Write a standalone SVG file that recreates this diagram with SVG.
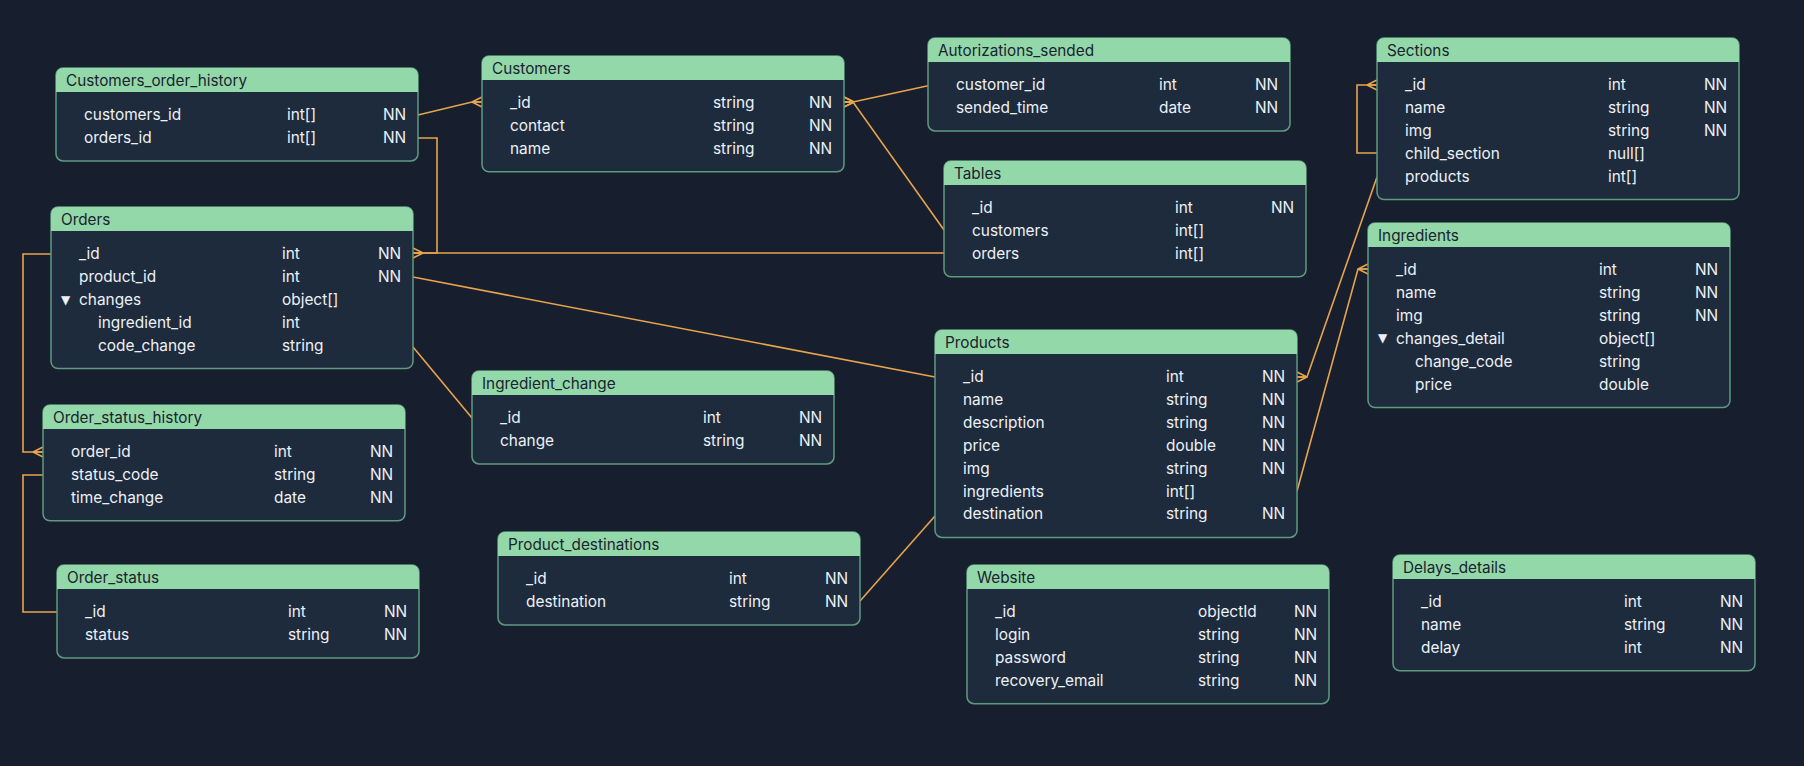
<svg xmlns="http://www.w3.org/2000/svg" width="1804" height="766" viewBox="0 0 1804 766">
<defs>
<style>
.bg{fill:#171f2e}
.body{fill:#1e2b3d;stroke:#5f9a7f;stroke-width:1.5}
.hdr{fill:#93d8a8}
.title{font-family:Inter,"Liberation Sans",sans-serif;font-size:15.3px;fill:#1a2331}
.t{font-family:Inter,"Liberation Sans",sans-serif;font-size:15.4px;fill:#edf1f6}
.tri{font-family:"DejaVu Sans",sans-serif;font-size:12px;fill:#edf1f6}
.c{fill:none;stroke:#e8a44c;stroke-width:1.6}
</style>
<marker id="crow" markerUnits="userSpaceOnUse" viewBox="-11 -7 12 14" refX="0" refY="0" markerWidth="12" markerHeight="14" orient="auto" overflow="visible">
<path d="M-10,0 L0,-5 M-10,0 L0,0 M-10,0 L0,5" fill="none" stroke="#e8a44c" stroke-width="1.6"/>
</marker>
<path id="h" d="M0,24 V7 A7,7 0 0 1 7,0 H355 A7,7 0 0 1 362,7 V24 Z"/>
</defs>
<rect class="bg" x="0" y="0" width="1804" height="766"/>

<g id="connectors">
<path class="c" d="M418,115 L472,102 L482,102" marker-end="url(#crow)"/>
<path class="c" d="M418,138 H437 V253 H413" marker-end="url(#crow)"/>
<path class="c" d="M944,253 H413"/>
<path class="c" d="M928,85.7 L853,102 L844,102" marker-end="url(#crow)"/>
<path class="c" d="M944,230 L853,102 L844,102" marker-end="url(#crow)"/>
<path class="c" d="M413,277 L935,377"/>
<path class="c" d="M413,347 L472,418"/>
<path class="c" d="M860,601 L935,516"/>
<path class="c" d="M1377,177 L1307,377 L1297,377" marker-end="url(#crow)"/>
<path class="c" d="M1297,491 L1358,269 L1368,269" marker-end="url(#crow)"/>
<path class="c" d="M1377,153 H1357 V85 H1377" marker-end="url(#crow)"/>
<path class="c" d="M51,254 H23 V452 H43" marker-end="url(#crow)"/>
<path class="c" d="M43,475 H23 V612 H57"/>
</g>

<g id="Customers_order_history" transform="translate(56,68)">
<rect class="body" width="362" height="92.9" rx="7"/><use href="#h" class="hdr"/>
<text class="title" x="10" y="18">Customers_order_history</text>
<text class="t" x="28" y="52">customers_id</text><text class="t" x="231" y="52">int[]</text><text class="t" x="327" y="52">NN</text>
<text class="t" x="28" y="74.9">orders_id</text><text class="t" x="231" y="74.9">int[]</text><text class="t" x="327" y="74.9">NN</text>
</g>

<g id="Orders" transform="translate(51,207)">
<rect class="body" width="362" height="161.6" rx="7"/><use href="#h" class="hdr"/>
<text class="title" x="10" y="18">Orders</text>
<text class="t" x="28" y="52">_id</text><text class="t" x="231" y="52">int</text><text class="t" x="327" y="52">NN</text>
<text class="t" x="28" y="74.9">product_id</text><text class="t" x="231" y="74.9">int</text><text class="t" x="327" y="74.9">NN</text>
<text class="tri" x="10" y="96.5">▼</text><text class="t" x="28" y="97.8">changes</text><text class="t" x="231" y="97.8">object[]</text>
<text class="t" x="47" y="120.7">ingredient_id</text><text class="t" x="231" y="120.7">int</text>
<text class="t" x="47" y="143.6">code_change</text><text class="t" x="231" y="143.6">string</text>
</g>

<g id="Customers" transform="translate(482,56)">
<rect class="body" width="362" height="115.8" rx="7"/><use href="#h" class="hdr"/>
<text class="title" x="10" y="18">Customers</text>
<text class="t" x="28" y="52">_id</text><text class="t" x="231" y="52">string</text><text class="t" x="327" y="52">NN</text>
<text class="t" x="28" y="74.9">contact</text><text class="t" x="231" y="74.9">string</text><text class="t" x="327" y="74.9">NN</text>
<text class="t" x="28" y="97.8">name</text><text class="t" x="231" y="97.8">string</text><text class="t" x="327" y="97.8">NN</text>
</g>

<g id="Autorizations_sended" transform="translate(928,38)">
<rect class="body" width="362" height="92.9" rx="7"/><use href="#h" class="hdr"/>
<text class="title" x="10" y="18">Autorizations_sended</text>
<text class="t" x="28" y="52">customer_id</text><text class="t" x="231" y="52">int</text><text class="t" x="327" y="52">NN</text>
<text class="t" x="28" y="74.9">sended_time</text><text class="t" x="231" y="74.9">date</text><text class="t" x="327" y="74.9">NN</text>
</g>

<g id="Tables" transform="translate(944,161)">
<rect class="body" width="362" height="115.8" rx="7"/><use href="#h" class="hdr"/>
<text class="title" x="10" y="18">Tables</text>
<text class="t" x="28" y="52">_id</text><text class="t" x="231" y="52">int</text><text class="t" x="327" y="52">NN</text>
<text class="t" x="28" y="74.9">customers</text><text class="t" x="231" y="74.9">int[]</text>
<text class="t" x="28" y="97.8">orders</text><text class="t" x="231" y="97.8">int[]</text>
</g>

<g id="Sections" transform="translate(1377,38)">
<rect class="body" width="362" height="161.6" rx="7"/><use href="#h" class="hdr"/>
<text class="title" x="10" y="18">Sections</text>
<text class="t" x="28" y="52">_id</text><text class="t" x="231" y="52">int</text><text class="t" x="327" y="52">NN</text>
<text class="t" x="28" y="74.9">name</text><text class="t" x="231" y="74.9">string</text><text class="t" x="327" y="74.9">NN</text>
<text class="t" x="28" y="97.8">img</text><text class="t" x="231" y="97.8">string</text><text class="t" x="327" y="97.8">NN</text>
<text class="t" x="28" y="120.7">child_section</text><text class="t" x="231" y="120.7">null[]</text>
<text class="t" x="28" y="143.6">products</text><text class="t" x="231" y="143.6">int[]</text>
</g>

<g id="Ingredients" transform="translate(1368,223)">
<rect class="body" width="362" height="184.5" rx="7"/><use href="#h" class="hdr"/>
<text class="title" x="10" y="18">Ingredients</text>
<text class="t" x="28" y="52">_id</text><text class="t" x="231" y="52">int</text><text class="t" x="327" y="52">NN</text>
<text class="t" x="28" y="74.9">name</text><text class="t" x="231" y="74.9">string</text><text class="t" x="327" y="74.9">NN</text>
<text class="t" x="28" y="97.8">img</text><text class="t" x="231" y="97.8">string</text><text class="t" x="327" y="97.8">NN</text>
<text class="tri" x="10" y="119.4">▼</text><text class="t" x="28" y="120.7">changes_detail</text><text class="t" x="231" y="120.7">object[]</text>
<text class="t" x="47" y="143.6">change_code</text><text class="t" x="231" y="143.6">string</text>
<text class="t" x="47" y="166.5">price</text><text class="t" x="231" y="166.5">double</text>
</g>

<g id="Order_status_history" transform="translate(43,405)">
<rect class="body" width="362" height="115.8" rx="7"/><use href="#h" class="hdr"/>
<text class="title" x="10" y="18">Order_status_history</text>
<text class="t" x="28" y="52">order_id</text><text class="t" x="231" y="52">int</text><text class="t" x="327" y="52">NN</text>
<text class="t" x="28" y="74.9">status_code</text><text class="t" x="231" y="74.9">string</text><text class="t" x="327" y="74.9">NN</text>
<text class="t" x="28" y="97.8">time_change</text><text class="t" x="231" y="97.8">date</text><text class="t" x="327" y="97.8">NN</text>
</g>

<g id="Order_status" transform="translate(57,565)">
<rect class="body" width="362" height="92.9" rx="7"/><use href="#h" class="hdr"/>
<text class="title" x="10" y="18">Order_status</text>
<text class="t" x="28" y="52">_id</text><text class="t" x="231" y="52">int</text><text class="t" x="327" y="52">NN</text>
<text class="t" x="28" y="74.9">status</text><text class="t" x="231" y="74.9">string</text><text class="t" x="327" y="74.9">NN</text>
</g>

<g id="Ingredient_change" transform="translate(472,371)">
<rect class="body" width="362" height="92.9" rx="7"/><use href="#h" class="hdr"/>
<text class="title" x="10" y="18">Ingredient_change</text>
<text class="t" x="28" y="52">_id</text><text class="t" x="231" y="52">int</text><text class="t" x="327" y="52">NN</text>
<text class="t" x="28" y="74.9">change</text><text class="t" x="231" y="74.9">string</text><text class="t" x="327" y="74.9">NN</text>
</g>

<g id="Product_destinations" transform="translate(498,532)">
<rect class="body" width="362" height="92.9" rx="7"/><use href="#h" class="hdr"/>
<text class="title" x="10" y="18">Product_destinations</text>
<text class="t" x="28" y="52">_id</text><text class="t" x="231" y="52">int</text><text class="t" x="327" y="52">NN</text>
<text class="t" x="28" y="74.9">destination</text><text class="t" x="231" y="74.9">string</text><text class="t" x="327" y="74.9">NN</text>
</g>

<g id="Products" transform="translate(935,330)">
<rect class="body" width="362" height="207.4" rx="7"/><use href="#h" class="hdr"/>
<text class="title" x="10" y="18">Products</text>
<text class="t" x="28" y="52">_id</text><text class="t" x="231" y="52">int</text><text class="t" x="327" y="52">NN</text>
<text class="t" x="28" y="74.9">name</text><text class="t" x="231" y="74.9">string</text><text class="t" x="327" y="74.9">NN</text>
<text class="t" x="28" y="97.8">description</text><text class="t" x="231" y="97.8">string</text><text class="t" x="327" y="97.8">NN</text>
<text class="t" x="28" y="120.7">price</text><text class="t" x="231" y="120.7">double</text><text class="t" x="327" y="120.7">NN</text>
<text class="t" x="28" y="143.6">img</text><text class="t" x="231" y="143.6">string</text><text class="t" x="327" y="143.6">NN</text>
<text class="t" x="28" y="166.5">ingredients</text><text class="t" x="231" y="166.5">int[]</text>
<text class="t" x="28" y="189.4">destination</text><text class="t" x="231" y="189.4">string</text><text class="t" x="327" y="189.4">NN</text>
</g>

<g id="Website" transform="translate(967,565)">
<rect class="body" width="362" height="138.7" rx="7"/><use href="#h" class="hdr"/>
<text class="title" x="10" y="18">Website</text>
<text class="t" x="28" y="52">_id</text><text class="t" x="231" y="52">objectId</text><text class="t" x="327" y="52">NN</text>
<text class="t" x="28" y="74.9">login</text><text class="t" x="231" y="74.9">string</text><text class="t" x="327" y="74.9">NN</text>
<text class="t" x="28" y="97.8">password</text><text class="t" x="231" y="97.8">string</text><text class="t" x="327" y="97.8">NN</text>
<text class="t" x="28" y="120.7">recovery_email</text><text class="t" x="231" y="120.7">string</text><text class="t" x="327" y="120.7">NN</text>
</g>

<g id="Delays_details" transform="translate(1393,555)">
<rect class="body" width="362" height="115.8" rx="7"/><use href="#h" class="hdr"/>
<text class="title" x="10" y="18">Delays_details</text>
<text class="t" x="28" y="52">_id</text><text class="t" x="231" y="52">int</text><text class="t" x="327" y="52">NN</text>
<text class="t" x="28" y="74.9">name</text><text class="t" x="231" y="74.9">string</text><text class="t" x="327" y="74.9">NN</text>
<text class="t" x="28" y="97.8">delay</text><text class="t" x="231" y="97.8">int</text><text class="t" x="327" y="97.8">NN</text>
</g>
</svg>
